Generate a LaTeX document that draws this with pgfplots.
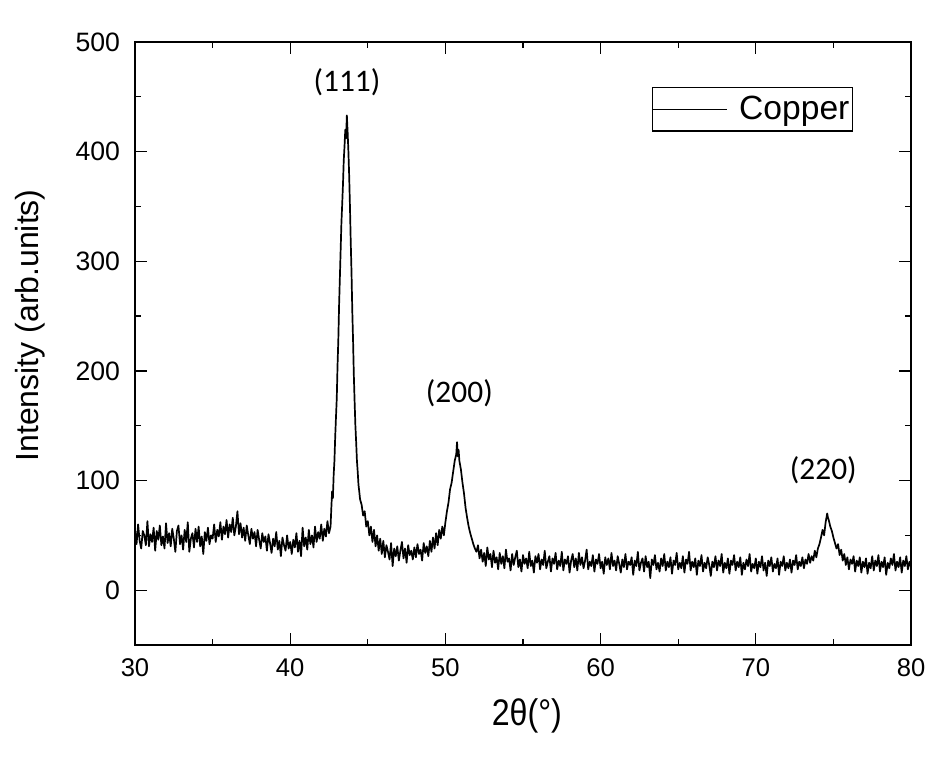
\documentclass[border=0pt]{standalone}
\usepackage{fontspec}
\setmainfont{Liberation Sans}
\newfontfamily\carlito{Carlito}
\usepackage{pgfplots}
\pgfplotsset{compat=1.18}
\begin{document}
\begin{tikzpicture}
\begin{axis}[
  scale only axis,
  width=388pt, height=301.5pt,
  xmin=30, xmax=80, ymin=-50, ymax=500,
  xtick={30,40,50,60,70,80},
  ytick={0,100,200,300,400,500},
  minor x tick num=1, minor y tick num=1,
  tick align=inside,
  major tick length=6pt, minor tick length=2.8pt,
  every tick/.style={black, line width=0.6pt},
  axis line style={line width=1pt},
  /pgf/number format/assume math mode=true,
  yticklabel style={font=\fontsize{13.3}{14}\selectfont, xshift=-4pt},
  xticklabel style={font=\fontsize{12.8}{14}\selectfont, yshift=-3.5pt},
  xlabel={\scalebox{0.87}[1]{2θ(°)}},
  xlabel style={font=\fontsize{18.5}{19}\selectfont, at={(axis description cs:0.505,-0.1177)}, anchor=center},
  ylabel={Intensity (arb.units)},
  ylabel style={font=\fontsize{16}{17}\selectfont, at={(axis description cs:-0.1353,0.53)}, anchor=center, rotate=0},
  legend style={at={(rel axis cs:1,1)}, anchor=north east, xshift=-29pt, yshift=-22.5pt,
    draw=black, line width=0.6pt, font=\fontsize{16.8}{17}\selectfont, inner sep=0pt,
    nodes={inner xsep=1.5pt, inner ysep=4.25pt}},
  legend image code/.code={\draw[black, line width=0.5pt] (0pt,0pt) -- (37pt,0pt); \path (41pt,0pt);},
  legend cell align=left,
]
\addplot[black, line width=0.85pt, line join=round] coordinates {
(30.0,55)(30.1,42)(30.2,60)(30.3,45)(30.4,38)(30.5,54)(30.6,50)(30.7,41)(30.8,63)(30.9,40)
(31.0,51)(31.1,44)(31.2,57)(31.3,36)(31.4,54)(31.5,46)(31.6,59)(31.7,41)(31.8,49)(31.9,38)
(32.0,61)(32.1,43)(32.2,52)(32.3,40)(32.4,56)(32.5,47)(32.6,35)(32.7,54)(32.8,59)(32.9,42)
(33.0,50)(33.1,37)(33.2,55)(33.3,44)(33.4,62)(33.5,35)(33.6,47)(33.7,52)(33.8,39)(33.9,56)
(34.0,44)(34.1,58)(34.2,40)(34.3,49)(34.4,33)(34.5,53)(34.6,45)(34.7,57)(34.8,42)(34.9,50)
(35.0,47)(35.1,60)(35.2,44)(35.3,55)(35.4,49)(35.5,62)(35.6,46)(35.7,58)(35.8,51)(35.9,64)
(36.0,48)(36.1,60)(36.2,53)(36.3,66)(36.4,50)(36.5,58)(36.6,72)(36.7,51)(36.8,61)(36.9,48)
(37.0,57)(37.1,45)(37.2,59)(37.3,50)(37.4,42)(37.5,56)(37.6,47)(37.7,53)(37.8,40)(37.9,55)
(38.0,46)(38.1,38)(38.2,52)(38.3,44)(38.4,49)(38.5,36)(38.6,51)(38.7,43)(38.8,34)(38.9,47)
(39.0,40)(39.1,53)(39.2,37)(39.3,45)(39.4,31)(39.5,48)(39.6,41)(39.7,36)(39.8,50)(39.9,38)
(40.0,44)(40.1,33)(40.2,46)(40.3,39)(40.4,52)(40.5,35)(40.6,45)(40.7,31)(40.8,57)(40.9,40)
(41.0,48)(41.1,37)(41.2,55)(41.3,42)(41.4,50)(41.5,39)(41.6,58)(41.7,44)(41.8,53)(41.9,47)
(42.0,60)(42.1,45)(42.2,56)(42.3,49)(42.4,63)(42.5,52)(42.6,58)(42.65,75)(42.7,90)(42.75,84)
(42.8,105)(42.85,118)(42.9,140)(42.95,158)(43.0,175)(43.05,205)(43.1,228)(43.15,260)(43.2,285)(43.25,310)
(43.3,335)(43.35,352)(43.4,370)(43.45,392)(43.5,405)(43.55,420)(43.6,412)(43.65,433)(43.7,418)(43.75,400)
(43.8,378)(43.85,350)(43.9,318)(43.95,290)(44.0,255)(44.05,228)(44.1,196)(44.15,172)(44.2,150)(44.25,135)
(44.3,118)(44.35,108)(44.4,96)(44.45,90)(44.5,83)(44.6,78)(44.7,68)(44.8,72)(44.9,58)
(45.0,63)(45.1,50)(45.2,58)(45.3,44)(45.4,55)(45.5,40)(45.6,50)(45.7,36)(45.8,47)(45.9,33)
(46.0,45)(46.1,30)(46.2,41)(46.3,35)(46.4,28)(46.5,43)(46.6,22)(46.7,38)(46.8,31)(46.9,40)
(47.0,27)(47.1,36)(47.2,44)(47.3,29)(47.4,38)(47.5,25)(47.6,41)(47.7,32)(47.8,36)(47.9,28)
(48.0,39)(48.1,30)(48.2,42)(48.3,33)(48.4,37)(48.5,27)(48.6,43)(48.7,34)(48.8,40)(48.9,31)
(49.0,45)(49.1,35)(49.2,48)(49.3,38)(49.4,52)(49.5,41)(49.6,55)(49.7,47)(49.8,58)(49.9,50)
(50.0,62)(50.1,72)(50.2,80)(50.3,92)(50.4,98)(50.5,108)(50.6,118)(50.7,124)(50.75,135)(50.8,122)
(50.85,128)(50.9,118)(51.0,110)(51.1,98)(51.2,88)(51.3,75)(51.4,66)(51.5,58)(51.6,52)(51.7,47)
(51.8,42)(51.9,38)(52.0,35)(52.1,41)(52.2,29)(52.3,37)(52.4,26)(52.5,34)(52.6,22)(52.7,39)
(52.8,28)(52.9,33)(53.0,21)(53.1,36)(53.2,25)(53.3,30)(53.4,19)(53.5,34)(53.6,24)(53.7,31)
(53.8,20)(53.9,37)(54.0,26)(54.1,29)(54.2,18)(54.3,33)(54.4,23)(54.5,30)(54.6,36)(54.7,21)
(54.8,28)(54.9,17)(55.0,32)(55.1,24)(55.2,29)(55.3,20)(55.4,35)(55.5,22)(55.6,27)(55.7,16)
(55.8,31)(55.9,25)(56.0,33)(56.1,19)(56.2,28)(56.3,23)(56.4,36)(56.5,20)(56.6,26)(56.7,31)
(56.8,17)(56.9,29)(57.0,24)(57.1,34)(57.2,19)(57.3,27)(57.4,22)(57.5,35)(57.6,18)(57.7,28)
(57.8,24)(57.9,31)(58.0,16)(58.1,27)(58.2,33)(58.3,21)(58.4,29)(58.5,18)(58.6,34)(58.7,23)
(58.8,30)(58.9,20)(59.0,27)(59.1,37)(59.2,19)(59.3,26)(59.4,22)(59.5,32)(59.6,17)(59.7,28)
(59.8,24)(59.9,33)(60.0,20)(60.1,26)(60.2,15)(60.3,30)(60.4,23)(60.5,29)(60.6,19)(60.7,34)
(60.8,22)(60.9,27)(61.0,18)(61.1,31)(61.2,24)(61.3,16)(61.4,28)(61.5,21)(61.6,33)(61.7,19)
(61.8,26)(61.9,23)(62.0,30)(62.1,14)(62.2,27)(62.3,22)(62.4,35)(62.5,18)(62.6,25)(62.7,29)
(62.8,17)(62.9,31)(63.0,21)(63.1,26)(63.2,11)(63.3,28)(63.4,23)(63.5,32)(63.6,19)(63.7,25)
(63.8,17)(63.9,29)(64.0,22)(64.1,33)(64.2,18)(64.3,26)(64.4,21)(64.5,30)(64.6,15)(64.7,27)
(64.8,23)(64.9,34)(65.0,19)(65.1,25)(65.2,20)(65.3,31)(65.4,16)(65.5,28)(65.6,24)(65.7,35)
(65.8,18)(65.9,26)(66.0,21)(66.1,29)(66.2,14)(66.3,27)(66.4,22)(66.5,32)(66.6,17)(66.7,25)
(66.8,20)(66.9,30)(67.0,23)(67.1,13)(67.2,26)(67.3,21)(67.4,31)(67.5,18)(67.6,27)(67.7,22)
(67.8,33)(67.9,16)(68.0,25)(68.1,20)(68.2,29)(68.3,15)(68.4,27)(68.5,23)(68.6,32)(68.7,18)
(68.8,26)(68.9,21)(69.0,30)(69.1,14)(69.2,25)(69.3,19)(69.4,28)(69.5,22)(69.6,33)(69.7,17)
(69.8,24)(69.9,20)(70.0,29)(70.1,15)(70.2,26)(70.3,21)(70.4,31)(70.5,18)(70.6,25)(70.7,13)
(70.8,27)(70.9,22)(71.0,30)(71.1,17)(71.2,24)(71.3,20)(71.4,29)(71.5,14)(71.6,26)(71.7,22)
(71.8,31)(71.9,18)(72.0,25)(72.1,20)(72.2,28)(72.3,16)(72.4,27)(72.5,23)(72.6,32)(72.7,19)
(72.8,26)(72.9,22)(73.0,30)(73.1,20)(73.2,28)(73.3,24)(73.4,33)(73.5,25)(73.6,31)(73.7,27)
(73.8,36)(73.9,30)(74.0,38)(74.1,42)(74.2,48)(74.3,55)(74.4,50)(74.5,62)(74.6,70)(74.65,66)
(74.7,64)(74.8,58)(74.9,54)(75.0,48)(75.1,43)(75.2,38)(75.3,42)(75.4,32)(75.5,37)(75.6,27)
(75.7,33)(75.8,23)(75.9,30)(76.0,19)(76.1,28)(76.2,24)(76.3,31)(76.4,17)(76.5,27)(76.6,22)
(76.7,30)(76.8,16)(76.9,26)(77.0,21)(77.1,29)(77.2,15)(77.3,25)(77.4,20)(77.5,31)(77.6,18)
(77.7,27)(77.8,22)(77.9,32)(78.0,17)(78.1,26)(78.2,21)(78.3,30)(78.4,14)(78.5,25)(78.6,20)
(78.7,29)(78.8,23)(78.9,33)(79.0,18)(79.1,26)(79.2,21)(79.3,30)(79.4,16)(79.5,27)(79.6,22)
(79.7,31)(79.8,19)(79.9,26)(80.0,21)
};
\addlegendentry{Copper}
\node[font=\carlito\fontsize{15.7}{16}\selectfont] at (axis cs:43.66,463.5) {(111)};
\node[font=\carlito\fontsize{15.7}{16}\selectfont] at (axis cs:50.9,180) {(200)};
\node[font=\carlito\fontsize{15.7}{16}\selectfont] at (axis cs:74.35,109.5) {(220)};
\coordinate (SW) at (rel axis cs:0,0);
\coordinate (NE) at (rel axis cs:1,1);
\end{axis}
\pgfresetboundingbox
\path[use as bounding box] ([shift={(-67.5pt,-55.5pt)}]SW) rectangle ([shift={(18pt,21pt)}]NE);
\end{tikzpicture}
\end{document}
